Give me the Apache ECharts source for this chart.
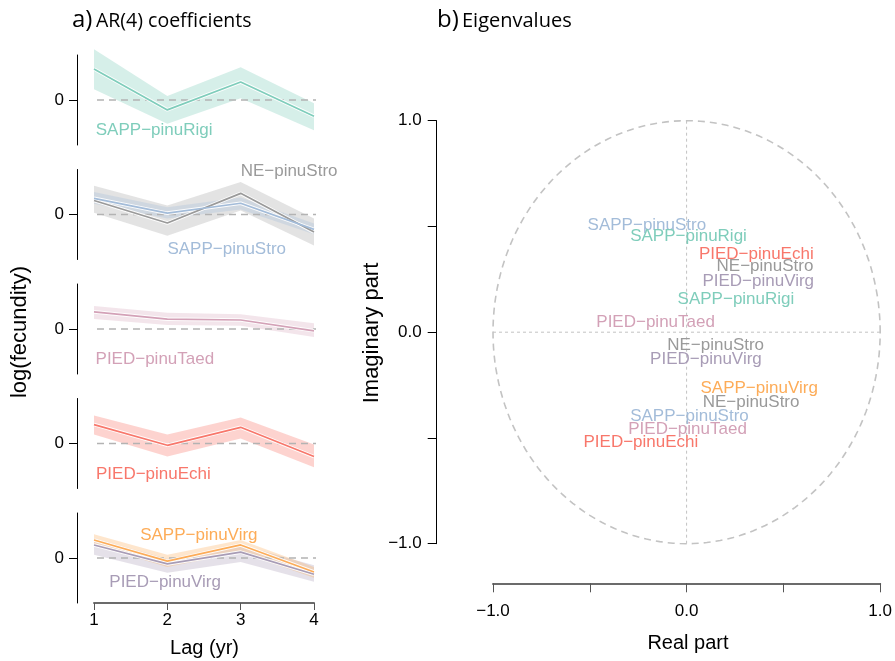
<!DOCTYPE html>
<html>
<head>
<meta charset="utf-8">
<script src="https://cdn.jsdelivr.net/npm/echarts@6/dist/echarts.min.js"></script>
<style>
  html, body { margin: 0; padding: 0; background: #fff; }
  #chart { width: 895px; height: 661px; }
</style>
</head>
<body>
<div id="chart"></div>
<script>
// lags of the AR(4) model
var lags = [1, 2, 3, 4];

// a) coefficients: estimate, lower and upper bound (per species)
var sappRigiMid = [0.69, -0.22, 0.40, -0.36];
var sappRigiLo = [0.24, -0.53, 0.04, -0.67];
var sappRigiHi = [1.13, 0.09, 0.73, -0.07];

var neStroMid = [0.31, -0.19, 0.47, -0.39];
var neStroLo = [0.04, -0.47, 0.09, -0.69];
var neStroHi = [0.64, 0.20, 0.72, -0.09];

var sappStroMid = [0.36, 0.03, 0.25, -0.33];
var sappStroLo = [0.24, -0.09, 0.11, -0.44];
var sappStroHi = [0.50, 0.16, 0.38, -0.20];

var piedTaedMid = [0.38, 0.22, 0.20, -0.04];
var piedTaedLo = [0.22, 0.09, 0.07, -0.18];
var piedTaedHi = [0.51, 0.36, 0.33, 0.13];

var piedEchiMid = [0.42, -0.04, 0.36, -0.29];
var piedEchiLo = [0.20, -0.29, 0.11, -0.53];
var piedEchiHi = [0.62, 0.20, 0.58, -0.02];

var piedVirgMid = [0.29, -0.13, 0.13, -0.36];
var piedVirgLo = [0.07, -0.33, -0.09, -0.53];
var piedVirgHi = [0.44, -0.02, 0.29, -0.16];

var sappVirgMid = [0.40, -0.07, 0.29, -0.31];
var sappVirgLo = [0.29, -0.20, 0.13, -0.44];
var sappVirgHi = [0.53, 0.07, 0.40, -0.20];

// b) eigenvalues (real / imaginary part)
var eigenNames = ['SAPP−pinuStro', 'SAPP−pinuRigi', 'PIED−pinuEchi', 'NE−pinuStro', 'PIED−pinuVirg',
  'SAPP−pinuRigi', 'PIED−pinuTaed', 'NE−pinuStro', 'PIED−pinuVirg', 'SAPP−pinuVirg',
  'NE−pinuStro', 'SAPP−pinuStro', 'PIED−pinuTaed', 'PIED−pinuEchi'];
var eigenRe = [-0.205, 0.01, 0.36, 0.405, 0.37, 0.255, -0.16, 0.15, 0.10, 0.375, 0.333, 0.015, 0.005, -0.236];
var eigenIm = [0.506, 0.454, 0.37, 0.31, 0.24, 0.156, 0.047, -0.06, -0.128, -0.265, -0.33, -0.40, -0.46, -0.52];

// colours
var colors = {
  'SAPP−pinuRigi': '#7fcdbb',
  'NE−pinuStro': '#9a9a9a',
  'SAPP−pinuStro': '#a3bcd9',
  'PIED−pinuTaed': '#d3a1b7',
  'PIED−pinuEchi': '#f8776b',
  'PIED−pinuVirg': '#a89cb6',
  'SAPP−pinuVirg': '#fdac58'
};
var bandAlpha = {
  'SAPP−pinuRigi': 0.32,
  'NE−pinuStro': 0.28,
  'SAPP−pinuStro': 0.3,
  'PIED−pinuTaed': 0.28,
  'PIED−pinuEchi': 0.32,
  'PIED−pinuVirg': 0.3,
  'SAPP−pinuVirg': 0.3
};

var FONT = '"Liberation Sans", Arial, Helvetica, sans-serif';
var TFONT = '"Open Sans", sans-serif';

// panel layout: species per panel and where its name goes (in data coords)
var panels = [
  { sp: [['SAPP−pinuRigi', sappRigiMid, sappRigiLo, sappRigiHi]],
    labels: [['SAPP−pinuRigi', 1.82, -0.67]] },
  { sp: [['NE−pinuStro', neStroMid, neStroLo, neStroHi], ['SAPP−pinuStro', sappStroMid, sappStroLo, sappStroHi]],
    labels: [['NE−pinuStro', 3.66, 0.97], ['SAPP−pinuStro', 2.81, -0.77]] },
  { sp: [['PIED−pinuTaed', piedTaedMid, piedTaedLo, piedTaedHi]],
    labels: [['PIED−pinuTaed', 1.83, -0.67]] },
  { sp: [['PIED−pinuEchi', piedEchiMid, piedEchiLo, piedEchiHi]],
    labels: [['PIED−pinuEchi', 1.81, -0.68]] },
  { sp: [['PIED−pinuVirg', piedVirgMid, piedVirgLo, piedVirgHi], ['SAPP−pinuVirg', sappVirgMid, sappVirgLo, sappVirgHi]],
    labels: [['SAPP−pinuVirg', 2.43, 0.51], ['PIED−pinuVirg', 1.97, -0.53]] }
];

function hexA(hex, a) {
  var n = parseInt(hex.slice(1), 16);
  return 'rgba(' + (n >> 16) + ',' + ((n >> 8) & 255) + ',' + (n & 255) + ',' + a + ')';
}

function textSeries(idx, items) {
  return {
    type: 'custom',
    xAxisIndex: idx,
    yAxisIndex: idx,
    z: 5,
    silent: true,
    data: items.map(function (d) { return [d[1], d[2]]; }),
    renderItem: function (params, api) {
      var p = api.coord([api.value(0), api.value(1)]);
      var name = items[params.dataIndex][0];
      return {
        type: 'text',
        x: p[0],
        y: p[1],
        style: {
          text: name,
          fill: colors[name],
          fontSize: 17,
          fontFamily: FONT,
          align: 'center',
          verticalAlign: 'middle',
          textAlign: 'center',
          textVerticalAlign: 'middle'
        }
      };
    }
  };
}

var grids = [];
var xAxes = [];
var yAxes = [];
var series = [];

panels.forEach(function (panel, i) {
  grids.push({ left: 94, width: 220, top: 55 + 114.5 * i, height: 90 });
  var last = i === panels.length - 1;
  xAxes.push({
    gridIndex: i,
    type: 'value',
    min: 1,
    max: 4,
    interval: 1,
    show: last,
    axisLine: { show: last, onZero: false, lineStyle: { color: '#6b6b6b', width: 2 } },
    axisTick: { show: last, length: 7, lineStyle: { color: '#555', width: 1 } },
    axisLabel: { show: last, fontSize: 17, color: '#000', fontFamily: FONT, margin: 9 },
    splitLine: { show: false }
  });
  yAxes.push({
    gridIndex: i,
    type: 'value',
    min: -1,
    max: 1,
    offset: 17,
    axisLine: { show: true, onZero: false, lineStyle: { color: '#000', width: 1 } },
    axisTick: { show: true, customValues: [0], length: 8, lineStyle: { color: '#000' } },
    axisLabel: { customValues: [0], fontSize: 17, color: '#000', fontFamily: FONT, margin: 13 },
    splitLine: { show: false }
  });

  // confidence bands
  panel.sp.forEach(function (s) {
    var name = s[0], lo = s[2], hi = s[3];
    series.push({
      type: 'custom',
      xAxisIndex: i,
      yAxisIndex: i,
      silent: true,
      clip: false,
      z: 1,
      data: lags.map(function (l, k) { return [l, lo[k], hi[k]]; }),
      renderItem: function (params, api) {
        if (params.dataIndex !== 0) return null;
        var pts = [];
        lags.forEach(function (l, k) { pts.push(api.coord([l, hi[k]])); });
        for (var k = lags.length - 1; k >= 0; k--) pts.push(api.coord([lags[k], lo[k]]));
        return {
          type: 'polygon',
          shape: { points: pts },
          style: { fill: hexA(colors[name], bandAlpha[name]), stroke: null }
        };
      }
    });
  });

  // dashed zero line
  series.push({
    type: 'line',
    xAxisIndex: i,
    yAxisIndex: i,
    data: [[0.877, 0], [4.123, 0]],
    symbol: 'none',
    clip: false,
    silent: true,
    z: 2,
    lineStyle: { color: '#b3b3b3', width: 1.5, type: [7, 5] }
  });

  // estimate lines with a white edge
  panel.sp.forEach(function (s) {
    var pts = lags.map(function (l, k) { return [l, s[1][k]]; });
    series.push({
      type: 'line', xAxisIndex: i, yAxisIndex: i, data: pts, symbol: 'none',
      clip: false, silent: true, z: 3,
      lineStyle: { color: 'rgba(255,255,255,0.9)', width: 3.6 }
    });
    series.push({
      type: 'line', xAxisIndex: i, yAxisIndex: i, data: pts, symbol: 'none',
      clip: false, silent: true, z: 4,
      lineStyle: { color: colors[s[0]], width: 1.7 }
    });
  });

  series.push(textSeries(i, panel.labels));
});

// b) eigenvalue panel
var ei = panels.length;
grids.push({ left: 493, width: 389, top: 120.7, height: 423 });
function ev(v) {
  if (v === -1) return '−1.0';
  if (v === 0) return '0.0';
  if (v === 1) return '1.0';
  return '';
}
xAxes.push({
  gridIndex: ei,
  type: 'value',
  min: -1,
  max: 1,
  interval: 0.5,
  offset: 39.6,
  axisLine: { onZero: false, lineStyle: { color: '#6b6b6b', width: 2 } },
  axisTick: { length: 9, lineStyle: { color: '#555', width: 1 } },
  axisLabel: { formatter: ev, fontSize: 17, color: '#000', fontFamily: FONT, margin: 20, showMinLabel: true, showMaxLabel: true },
  splitLine: { show: false }
});
yAxes.push({
  gridIndex: ei,
  type: 'value',
  min: -1,
  max: 1,
  interval: 0.5,
  offset: 56.3,
  axisLine: { show: true, onZero: false, lineStyle: { color: '#000', width: 1 } },
  axisTick: { show: true, length: 9, lineStyle: { color: '#000', width: 1 } },
  axisLabel: { formatter: ev, fontSize: 17, color: '#000', fontFamily: FONT, margin: 15, showMinLabel: true, showMaxLabel: true },
  splitLine: { show: false }
});

// unit circle
series.push({
  type: 'custom',
  xAxisIndex: ei,
  yAxisIndex: ei,
  silent: true,
  clip: false,
  z: 1,
  data: [[0, 0]],
  renderItem: function (params, api) {
    var pts = [];
    for (var k = 0; k <= 180; k++) {
      var t = k / 180 * Math.PI * 2;
      pts.push(api.coord([Math.cos(t), Math.sin(t)]));
    }
    return {
      type: 'polyline',
      shape: { points: pts },
      style: { stroke: '#c3c3c3', lineWidth: 1.6, lineDash: [7, 5], fill: 'none' }
    };
  }
});
// zero cross
[[[-1, 0], [1, 0]], [[0, -1], [0, 1]]].forEach(function (d) {
  series.push({
    type: 'line', xAxisIndex: ei, yAxisIndex: ei, data: d, symbol: 'none',
    silent: true, z: 1,
    lineStyle: { color: '#c3c3c3', width: 1, type: [3, 3] }
  });
});
series.push(textSeries(ei, eigenNames.map(function (n, k) { return [n, eigenRe[k], eigenIm[k]]; })));

var chart = echarts.init(document.getElementById('chart'));
chart.setOption({
  animation: false,
  backgroundColor: '#fff',
  grid: grids,
  xAxis: xAxes,
  yAxis: yAxes,
  series: series,
  graphic: [
    { type: 'text', x: 72, y: 20, style: { text: 'a)', font: '24px ' + TFONT, fill: '#000', textVerticalAlign: 'middle', verticalAlign: 'middle' } },
    { type: 'text', x: 96, y: 21, style: { text: 'AR(4) coefficients', font: '19.5px ' + TFONT, fill: '#000', textVerticalAlign: 'middle', verticalAlign: 'middle' } },
    { type: 'text', x: 437, y: 20, style: { text: 'b)', font: '24px ' + TFONT, fill: '#000', textVerticalAlign: 'middle', verticalAlign: 'middle' } },
    { type: 'text', x: 462, y: 21, style: { text: 'Eigenvalues', font: '20px ' + TFONT, fill: '#000', textVerticalAlign: 'middle', verticalAlign: 'middle' } },
    { type: 'text', x: 20, y: 332, rotation: Math.PI / 2,
      style: { text: 'log(fecundity)', font: '22px ' + FONT, fill: '#000', textAlign: 'center', align: 'center', textVerticalAlign: 'middle', verticalAlign: 'middle' } },
    { type: 'text', x: 204.5, y: 648,
      style: { text: 'Lag (yr)', font: '20px ' + FONT, fill: '#000', textAlign: 'center', align: 'center', textVerticalAlign: 'middle', verticalAlign: 'middle' } },
    { type: 'text', x: 372, y: 333, rotation: Math.PI / 2,
      style: { text: 'Imaginary part', font: '22px ' + FONT, fill: '#000', textAlign: 'center', align: 'center', textVerticalAlign: 'middle', verticalAlign: 'middle' } },
    { type: 'text', x: 688, y: 643,
      style: { text: 'Real part', font: '20px ' + FONT, fill: '#000', textAlign: 'center', align: 'center', textVerticalAlign: 'middle', verticalAlign: 'middle' } }
  ]
});
</script>
</body>
</html>
